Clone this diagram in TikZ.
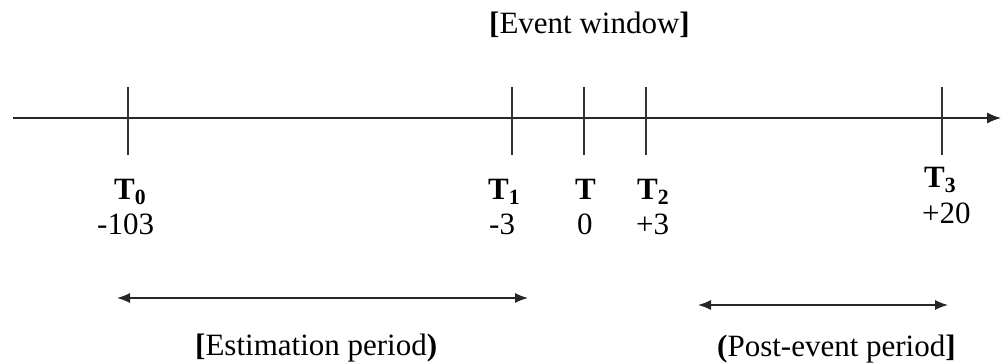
\documentclass[tikz,border=0pt]{standalone}
\usepackage{fontspec}
\setmainfont{Liberation Serif}
\usetikzlibrary{arrows.meta}
\begin{document}
\begin{tikzpicture}[x=1pt,y=-1pt,
  axisline/.style={draw=black!85,line width=1.3pt},
  tickline/.style={draw=black!80,line width=1.3pt},
  spanarrow/.style={draw=black!85,line width=1.3pt,{Latex[length=13pt,width=10pt]}-{Latex[length=13pt,width=10pt]}},
  lbl/.style={anchor=base west,inner sep=0pt,font=\fontsize{31}{36}\selectfont}]
\useasboundingbox (0,0) rectangle (1005,364);
% axis
\coordinate (axS) at (13,118);
\coordinate (axE) at (1001,118);
\draw[axisline,-{Latex[length=14pt,width=11pt]}] (axS) -- (axE);
% ticks
\foreach \n/\x in {t0/128,t1/512,t/584,t2/646,t3/942}{
  \coordinate (\n top) at (\x,87);
  \coordinate (\n bot) at (\x,155);
  \draw[tickline] (\n top) -- (\n bot);
}
% labels
\node[lbl] (Lt0) at (114,199) {\textbf{T}\textsubscript{\textbf{0}}};
\node[lbl] (Nt0) at (97,234) {-103};
\node[lbl] (Lt1) at (488,199) {\textbf{T}\textsubscript{\textbf{1}}};
\node[lbl] (Nt1) at (489,234) {-3};
\node[lbl] (Lt) at (575,199) {\textbf{T}};
\node[lbl] (Nt) at (577,234) {0};
\node[lbl] (Lt2) at (637,199) {\textbf{T}\textsubscript{\textbf{2}}};
\node[lbl] (Nt2) at (636,234) {+3};
\node[lbl] (Lt3) at (924,187) {\textbf{T}\textsubscript{\textbf{3}}};
\node[lbl] (Nt3) at (922,223) {+20};
\node[lbl] (ew) at (489,34) {\textbf{[}Event window\textbf{]}};
% period arrows
\coordinate (esA) at (117,298);
\coordinate (esB) at (528,298);
\draw[spanarrow] (esA) -- (esB);
\node[lbl] (es) at (195,355) {\textbf{[}Estimation period\textbf{)}};
\coordinate (peA) at (698,305);
\coordinate (peB) at (948,305);
\draw[spanarrow] (peA) -- (peB);
\node[lbl] (pe) at (717,356) {\textbf{(}Post-event period\textbf{]}};
\end{tikzpicture}
\end{document}
